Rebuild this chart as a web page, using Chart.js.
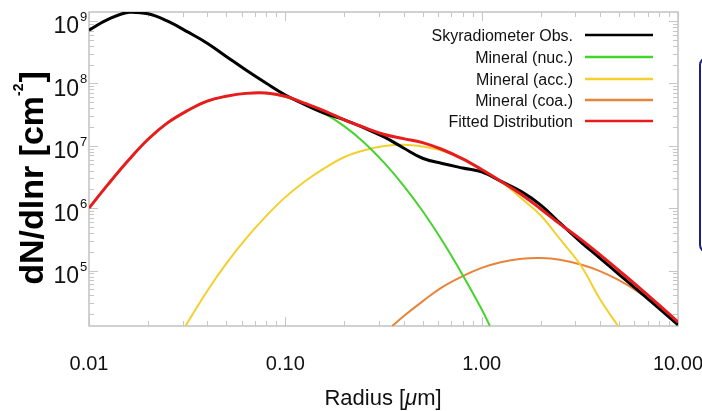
<!DOCTYPE html>
<html>
<head>
<meta charset="utf-8">
<script src="https://cdn.jsdelivr.net/npm/chart.js@4.4.1/dist/chart.umd.min.js"></script>
<style>
  html, body { margin: 0; padding: 0; background: #fff; overflow: hidden; }
  #wrap { position: relative; width: 702px; height: 411px; }
  #frame { position: absolute; left: 699px; top: 57px; width: 20px; height: 192px;
           border: 2px solid #1b2280; border-radius: 8px; }
</style>
</head>
<body>
<div id="wrap">
  <canvas id="psd" width="702" height="411"></canvas>
  <div id="frame"></div>
</div>
<script>
// values (radius in um, dN/dlnr in cm^-2)
var radius = [0.01, 0.0125, 0.016, 0.02, 0.025, 0.032, 0.04, 0.05, 0.063, 0.08, 0.1, 0.125, 0.16, 0.2, 0.25, 0.32,
              0.4, 0.5, 0.63, 0.8, 1.0, 1.25, 1.6, 2, 2.5, 3.2, 4, 5, 6.3, 8, 10];
var skyObs = [7.1e8, 1.06e9, 1.38e9, 1.3e9, 1.0e9, 6.6e8, 4.4e8, 2.7e8, 1.63e8, 1.0e8, 6.5e7, 4.6e7, 3.27e7, 2.6e7, 1.95e7, 1.37e7,
              9.2e6, 6.3e6, 5.2e6, 4.4e6, 3.8e6, 2.7e6, 1.82e6, 1.12e6, 5.8e5, 2.86e5, 1.58e5, 8.7e4, 4.7e4, 2.47e4, 1.35e4];
var fitted = [1.0e6, 2.4e6, 6.0e6, 1.27e7, 2.3e7, 3.7e7, 5.2e7, 6.2e7, 6.9e7, 7.0e7, 6.2e7, 4.8e7, 3.56e7, 2.6e7, 1.98e7, 1.51e7,
              1.3e7, 1.12e7, 8.7e6, 6.15e6, 4.15e6, 2.7e6, 1.64e6, 9.7e5, 5.6e5, 3.16e5, 1.8e5, 1.0e5, 5.4e4, 2.8e4, 1.5e4];

var nucRadius = [0.01, 0.0125, 0.016, 0.02, 0.025, 0.032, 0.04, 0.05, 0.063, 0.08, 0.1, 0.125, 0.16, 0.2, 0.25, 0.32,
                 0.4, 0.5, 0.63, 0.8, 1.0, 1.1];
var nucValues = [1.0e6, 2.4e6, 6.0e6, 1.27e7, 2.3e7, 3.7e7, 5.2e7, 6.2e7, 6.9e7, 6.95e7, 6.1e7, 4.65e7, 3.2e7, 2.04e7, 1.15e7, 5.25e6,
                 2.3e6, 9.0e5, 3.0e5, 8.5e4, 2.4e4, 1.3e4];

var accRadius = [0.031, 0.04, 0.05, 0.063, 0.08, 0.1, 0.125, 0.16, 0.2, 0.25, 0.32, 0.4, 0.5, 0.63, 0.8, 1.0,
                 1.25, 1.6, 2, 2.5, 3.2, 4, 4.95];
var accValues = [1.29e4, 4.7e4, 1.29e5, 3.25e5, 7.5e5, 1.5e6, 2.65e6, 4.45e6, 6.6e6, 8.4e6, 9.9e6, 1.04e7, 9.7e6, 8.3e6, 6.25e6, 4.1e6,
                 2.7e6, 1.41e6, 7.6e5, 3.2e5, 1.2e5, 3.5e4, 1.29e4];

var coaRadius = [0.35, 0.4, 0.5, 0.63, 0.8, 1.0, 1.25, 1.6, 2, 2.5, 3.2, 4, 5, 6.3, 8, 10];
var coaValues = [1.29e4, 1.85e4, 3.2e4, 5.4e4, 8.1e4, 1.1e5, 1.36e5, 1.54e5, 1.58e5, 1.49e5, 1.25e5, 9.8e4, 7.0e4, 4.5e4, 2.6e4, 1.41e4];

var seriesNames = ["Skyradiometer Obs.", "Mineral (nuc.)", "Mineral (acc.)", "Mineral (coa.)", "Fitted Distribution"];

var xTickValues = [0.01, 0.1, 1, 10];
var xTickLabels = ["0.01", "0.10", "1.00", "10.00"];
var yTickExponents = [5, 6, 7, 8, 9];

var FONT = '"Liberation Sans", Arial, Helvetica, sans-serif';

function pairs(xs, ys) {
    return xs.map(function (x, i) { return {x: x, y: ys[i]}; });
}

function line(label, xs, ys, color, width, order) {
    return {
        label: label,
        data: pairs(xs, ys),
        borderColor: color,
        backgroundColor: color,
        borderWidth: width,
        pointRadius: 0,
        fill: false,
        tension: 0.4,
        order: order
    };
}

// IDL style box: ticks inside on all four sides, labels and legend by hand
var idlAxes = {
    id: 'idlAxes',
    beforeDatasetsDraw: function (chart) {
        var ctx = chart.ctx, a = chart.chartArea;
        var xs = chart.scales.x, ys = chart.scales.y;
        ctx.save();
        ctx.strokeStyle = '#c6c6c6';
        ctx.lineWidth = 1;
        ctx.beginPath();
        for (var e = -2; e <= 1; e++) {
            for (var m = 1; m <= 9; m++) {
                var v = m * Math.pow(10, e);
                if (v < xs.min * 0.999 || v > xs.max * 1.001) continue;
                var px = Math.round(xs.getPixelForValue(v)) + 0.5;
                var len = m === 1 ? 9 : 5;
                ctx.moveTo(px, a.bottom); ctx.lineTo(px, a.bottom - len);
                ctx.moveTo(px, a.top); ctx.lineTo(px, a.top + len);
            }
        }
        for (var k = 4; k <= 9; k++) {
            for (var n = 1; n <= 9; n++) {
                var w = n * Math.pow(10, k);
                if (w < ys.min || w > ys.max) continue;
                var py = Math.round(ys.getPixelForValue(w)) + 0.5;
                var l2 = n === 1 ? 9 : 5;
                ctx.moveTo(a.left, py); ctx.lineTo(a.left + l2, py);
                ctx.moveTo(a.right, py); ctx.lineTo(a.right - l2, py);
            }
        }
        ctx.stroke();
        ctx.lineWidth = 1.6;
        ctx.strokeRect(a.left, a.top, a.right - a.left, a.bottom - a.top);
        ctx.restore();
    },
    afterDraw: function (chart) {
        var ctx = chart.ctx;
        var xs = chart.scales.x, ys = chart.scales.y;
        ctx.save();
        ctx.fillStyle = '#111';

        // x tick labels
        ctx.font = '20px ' + FONT;
        ctx.textAlign = 'center';
        ctx.textBaseline = 'alphabetic';
        xTickValues.forEach(function (v, i) {
            ctx.fillText(xTickLabels[i], xs.getPixelForValue(v), 370);
        });

        // y tick labels 10^n
        yTickExponents.forEach(function (ex) {
            var py = ys.getPixelForValue(Math.pow(10, ex));
            ctx.font = '23px ' + FONT;
            ctx.textAlign = 'right';
            ctx.fillText('10', 79, py + 12.4);
            ctx.font = '13px ' + FONT;
            ctx.textAlign = 'left';
            ctx.fillText(String(ex), 80, py);
        });

        // x title with italic mu
        ctx.textAlign = 'left';
        var f1 = '22px ' + FONT, f2 = 'italic 22px ' + FONT;
        ctx.font = f1; var w1 = ctx.measureText('Radius [').width, w3 = ctx.measureText('m]').width;
        ctx.font = f2; var w2 = ctx.measureText('\u03bc').width;
        var x0 = 383 - (w1 + w2 + w3) / 2;
        ctx.font = f1; ctx.fillText('Radius [', x0, 405);
        ctx.font = f2; ctx.fillText('\u03bc', x0 + w1, 405);
        ctx.font = f1; ctx.fillText('m]', x0 + w1 + w2, 405);

        // y title, rotated, bold
        ctx.save();
        ctx.translate(43, 178);
        ctx.rotate(-Math.PI / 2);
        ctx.fillStyle = '#000';
        var b1 = 'bold 34px ' + FONT, b2 = 'bold 14px ' + FONT;
        ctx.font = b1; var t1 = ctx.measureText('dN/dlnr [cm').width, t3 = ctx.measureText(']').width;
        ctx.font = b2; var t2 = ctx.measureText('-2').width + 1;
        var s0 = -(t1 + t2 + t3) / 2;
        ctx.font = b1; ctx.fillText('dN/dlnr [cm', s0, 0);
        ctx.font = b2; ctx.fillText('-2', s0 + t1, -20);
        ctx.font = b1; ctx.fillText(']', s0 + t1 + t2, 0);
        ctx.restore();

        // legend
        var rows = [35, 57, 79, 100, 121];
        ctx.font = '16px ' + FONT;
        ctx.textAlign = 'right';
        chart.data.datasets.forEach(function (ds, i) {
            ctx.fillStyle = '#111';
            ctx.fillText(ds.label, 573, rows[i] + 5.5);
            ctx.strokeStyle = ds.borderColor;
            ctx.lineWidth = 2.5;
            ctx.beginPath();
            ctx.moveTo(585, rows[i]);
            ctx.lineTo(653, rows[i]);
            ctx.stroke();
        });
        ctx.restore();
    }
};

var ctx_psd = document.getElementById("psd").getContext("2d");
var psdChart = new Chart(ctx_psd, {
    type: 'line',
    data: {
        datasets: [
            line(seriesNames[0], radius, skyObs, '#000000', 3, 1),
            line(seriesNames[1], nucRadius, nucValues, '#44d42c', 2, 2),
            line(seriesNames[2], accRadius, accValues, '#f3d02e', 2, 2),
            line(seriesNames[3], coaRadius, coaValues, '#e8843a', 2, 2),
            line(seriesNames[4], radius, fitted, '#e81c1c', 3, 0)
        ]
    },
    options: {
        responsive: false,
        animation: false,
        events: [],
        layout: { padding: { top: 12, right: 24, left: 0, bottom: 0 } },
        plugins: { legend: { display: false }, tooltip: { enabled: false } },
        scales: {
            x: {
                type: 'logarithmic', min: 0.01, max: 10,
                ticks: { display: false }, grid: { display: false }, border: { display: false },
                afterFit: function (s) { s.height = 85; }
            },
            y: {
                type: 'logarithmic', min: 1.29e4, max: 1.39e9,
                ticks: { display: false }, grid: { display: false }, border: { display: false },
                afterFit: function (s) { s.width = 89; }
            }
        }
    },
    plugins: [idlAxes]
});
</script>
</body>
</html>
